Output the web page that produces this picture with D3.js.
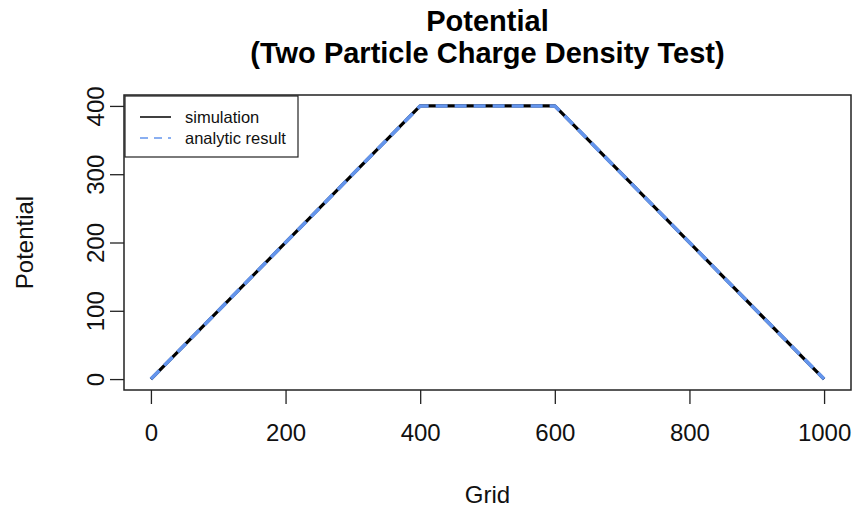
<!DOCTYPE html>
<html>
<head>
<meta charset="utf-8">
<script src="https://cdn.jsdelivr.net/npm/d3@7"></script>
<style>
  html, body { margin: 0; padding: 0; background: #fff; }
  svg { display: block; font-family: "Liberation Sans", Arial, sans-serif; }
</style>
</head>
<body>
<svg id="chart" width="854" height="508"></svg>
<script>
// Potential along the grid: breakpoints of the simulated and analytic curves
const gridPoints = [0, 400, 600, 1000];
const simulation = [0, 400, 400, 0];
const analytic = [0, 400, 400, 0];

const xTicks = [0, 200, 400, 600, 800, 1000];
const yTicks = [0, 100, 200, 300, 400];

const titleLines = ["Potential", "(Two Particle Charge Density Test)"];
const xLabel = "Grid";
const yLabel = "Potential";
const legendLabels = ["simulation", "analytic result"];

const svg = d3.select("#chart");

// plot region (data range padded by 4% on each side)
const box = { left: 124, right: 851, top: 95, bottom: 390 };
const xExt = [0, 1000], yExt = [0, 400];
const xPad = (xExt[1] - xExt[0]) * 0.04, yPad = (yExt[1] - yExt[0]) * 0.04;

const x = d3.scaleLinear().domain([xExt[0] - xPad, xExt[1] + xPad]).range([box.left, box.right]);
const y = d3.scaleLinear().domain([yExt[0] - yPad, yExt[1] + yPad]).range([box.bottom, box.top]);

// title
const cx = (box.left + box.right) / 2;
svg.append("g").selectAll("text").data(titleLines).join("text")
  .attr("x", cx).attr("y", (d, i) => 31 + i * 32)
  .attr("text-anchor", "middle")
  .attr("font-size", 29).attr("font-weight", "bold")
  .text(d => d);

// curves
const line = d3.line().x(d => x(d[0])).y(d => y(d[1]));
svg.append("path")
  .datum(gridPoints.map((g, i) => [g, simulation[i]]))
  .attr("d", line).attr("fill", "none")
  .attr("stroke", "#000").attr("stroke-width", 3.2)
  .attr("stroke-linejoin", "round");
svg.append("path")
  .datum(gridPoints.map((g, i) => [g, analytic[i]]))
  .attr("d", line).attr("fill", "none")
  .attr("stroke", "#6495ED").attr("stroke-width", 3.6)
  .attr("stroke-dasharray", "12,7")
  .attr("stroke-linejoin", "round");

// axes
const xAxis = d3.axisBottom(x).tickValues(xTicks).tickSize(14).tickPadding(20).tickFormat(d3.format("d"));
const gx = svg.append("g").attr("transform", `translate(0,${box.bottom})`).call(xAxis);
gx.select(".domain").remove();
gx.selectAll("line").attr("stroke", "#222").attr("stroke-width", 1.3);
gx.selectAll("text").attr("font-size", 24).attr("fill", "#111")
  .attr("font-family", "Liberation Sans, Arial, sans-serif");

const yAxis = d3.axisLeft(y).tickValues(yTicks).tickSize(14).tickFormat(d3.format("d"));
const gy = svg.append("g").attr("transform", `translate(${box.left},0)`).call(yAxis);
gy.select(".domain").remove();
gy.selectAll("line").attr("stroke", "#222").attr("stroke-width", 1.3);
gy.selectAll("text")
  .attr("font-size", 24).attr("fill", "#111")
  .attr("font-family", "Liberation Sans, Arial, sans-serif")
  .attr("text-anchor", "middle").attr("dy", null).attr("x", null)
  .attr("transform", "translate(-20,0) rotate(-90)");

// plot frame
svg.append("rect")
  .attr("x", box.left).attr("y", box.top)
  .attr("width", box.right - box.left).attr("height", box.bottom - box.top)
  .attr("fill", "none").attr("stroke", "#222").attr("stroke-width", 1.5);

// axis titles
svg.append("text").attr("x", cx).attr("y", 503)
  .attr("text-anchor", "middle").attr("font-size", 24).attr("fill", "#111").text(xLabel);
svg.append("text")
  .attr("transform", `translate(33,${(box.top + box.bottom) / 2}) rotate(-90)`)
  .attr("text-anchor", "middle").attr("font-size", 24).attr("fill", "#111").text(yLabel);

// legend
const lg = svg.append("g");
lg.append("rect").attr("x", 125).attr("y", 96).attr("width", 173).attr("height", 61)
  .attr("fill", "#fff").attr("stroke", "#222").attr("stroke-width", 1.2);
const legendStyles = [
  { stroke: "#000", dash: null },
  { stroke: "#6495ED", dash: "8,6" }
];
legendLabels.forEach((lab, i) => {
  const ly = 117 + i * 21;
  lg.append("line").attr("x1", 140).attr("x2", 171).attr("y1", ly).attr("y2", ly)
    .attr("stroke", legendStyles[i].stroke).attr("stroke-width", 1.5)
    .attr("stroke-dasharray", legendStyles[i].dash);
  lg.append("text").attr("x", 185).attr("y", ly + 6)
    .attr("font-size", 16.5).attr("fill", "#111").text(lab);
});
</script>
</body>
</html>
